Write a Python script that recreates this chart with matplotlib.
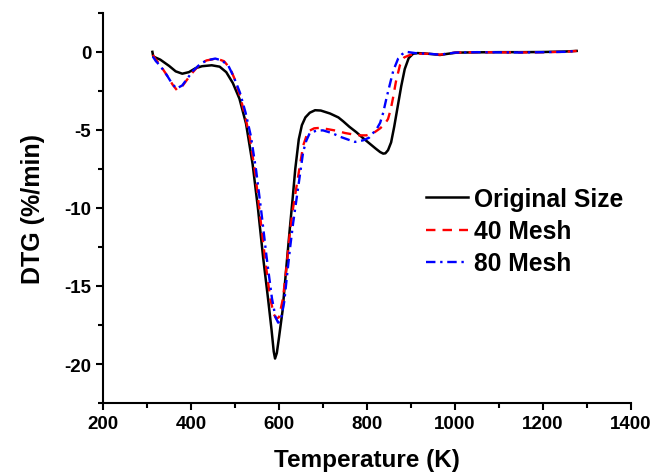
import matplotlib
matplotlib.use('Agg')
import matplotlib.pyplot as plt
from matplotlib.ticker import MultipleLocator

plt.rcParams['font.family'] = ['Liberation Sans', 'DejaVu Sans']
plt.rcParams['font.weight'] = 'bold'
plt.rcParams['axes.unicode_minus'] = False

# DTG curves, temperature in K, rate in %/min
temp_orig = [312, 314, 330, 350, 365, 380, 395, 410, 425, 447, 465, 480, 495, 510,
             525, 540, 552, 564, 575, 583, 588, 591, 595, 600, 608, 617, 625, 631,
             637, 645, 652, 660, 670, 682, 695, 716, 735, 746, 760, 776, 790, 805,
             820, 830, 837, 842, 848, 855, 862, 870, 878, 886, 895, 905, 915, 930,
             950, 966, 985, 1004, 1050, 1100, 1150, 1200, 1250, 1277]
dtg_orig = [0, -0.3, -0.5, -0.9, -1.25, -1.4, -1.3, -1.05, -0.92, -0.86, -0.95, -1.3,
            -2.0, -3.0, -4.6, -7.2, -10.0, -13.2, -15.8, -17.8, -19.2, -19.65, -19.3,
            -18.3, -16.6, -13.7, -11.2, -9.4, -7.5, -5.6, -4.7, -4.2, -3.9, -3.74,
            -3.76, -3.95, -4.2, -4.45, -4.8, -5.15, -5.5, -5.85, -6.2, -6.42, -6.52,
            -6.5, -6.3, -5.8, -4.8, -3.5, -2.2, -1.1, -0.4, -0.12, -0.08, -0.1, -0.15,
            -0.2, -0.12, -0.05, -0.03, -0.02, -0.02, -0.01, 0.02, 0.06]

temp_40 = [313, 320, 330, 345, 358, 368, 380, 393, 405, 420, 435, 458, 475, 489, 500,
           511, 522, 534, 546, 557, 568, 580, 588, 594, 600, 609, 617, 625, 632, 640,
           648, 655, 666, 680, 693, 710, 730, 750, 770, 784, 799, 815, 830, 840, 848,
           854, 859, 866, 875, 885, 898, 915, 940, 966, 1000, 1050, 1100, 1150, 1200,
           1250, 1277]
dtg_40 = [-0.2, -0.5, -0.86, -1.5, -2.1, -2.46, -2.2, -1.7, -1.27, -0.8, -0.55, -0.43,
          -0.6, -1.07, -1.8, -2.8, -4.0, -5.56, -7.8, -10.5, -13.2, -15.8, -16.8, -17.1,
          -17.0, -15.8, -13.8, -11.5, -10.0, -8.6, -7.2, -6.0, -5.1, -4.9, -4.87, -4.95,
          -5.05, -5.2, -5.3, -5.35, -5.35, -5.2, -4.9, -4.65, -4.3, -3.7, -3.0, -1.9,
          -0.86, -0.35, -0.2, -0.12, -0.12, -0.18, -0.05, -0.02, -0.03, -0.04, -0.02,
          0.0, 0.06]

temp_80 = [313, 320, 330, 345, 357, 367, 380, 393, 405, 420, 435, 455, 470, 485, 497,
           511, 524, 536, 548, 560, 572, 584, 592, 598, 604, 612, 618, 625, 632, 640,
           648, 655, 662, 670, 685, 700, 720, 740, 760, 773, 791, 805, 814, 822, 830,
           837, 845, 852, 860, 871, 880, 890, 910, 940, 966, 1000, 1050, 1100, 1150,
           1200, 1250, 1277]
dtg_80 = [-0.3, -0.6, -0.9, -1.5, -2.05, -2.35, -2.15, -1.65, -1.2, -0.8, -0.55, -0.43,
          -0.55, -0.9, -1.6, -2.6, -3.9, -5.4, -7.6, -10.3, -13.2, -15.8, -17.0, -17.35,
          -17.2, -16.0, -14.4, -12.6, -11.0, -9.4, -7.8, -6.4, -5.7, -5.2, -5.05, -5.03,
          -5.2, -5.45, -5.65, -5.77, -5.67, -5.5, -5.2, -4.95, -4.55, -3.9, -2.9, -2.1,
          -1.2, -0.43, -0.15, 0.0, -0.08, -0.12, -0.18, -0.05, -0.02, -0.03, -0.04,
          -0.02, 0.0, 0.06]

fig = plt.figure(figsize=(6.57, 4.77), dpi=100)
ax = fig.add_axes([0.157, 0.153, 0.803, 0.818])

ax.plot(temp_orig, dtg_orig, color='black', lw=1.8, label='Original Size')
ax.plot(temp_40, dtg_40, color='red', lw=1.7, ls=(0, (4, 3)), label='40 Mesh')
ax.plot(temp_80, dtg_80, color='blue', lw=1.7, ls=(0, (4, 2, 1, 2)), label='80 Mesh')

ax.set_xlim(200, 1400)
ax.set_ylim(-22.5, 2.5)
ax.xaxis.set_major_locator(MultipleLocator(200))
ax.xaxis.set_minor_locator(MultipleLocator(100))
ax.yaxis.set_major_locator(MultipleLocator(5))
ax.yaxis.set_minor_locator(MultipleLocator(2.5))

for s in ['top', 'right']:
    ax.spines[s].set_visible(False)
for s in ['left', 'bottom']:
    ax.spines[s].set_linewidth(1.5)
ax.tick_params(which='major', direction='out', length=5, width=1.5, labelsize=13.5)
ax.tick_params(which='minor', direction='out', length=3.5, width=1.5)

ax.set_xlabel('Temperature (K)', fontsize=17.5, fontweight='bold', labelpad=12)
ax.set_ylabel('DTG (%/min)', fontsize=18, fontweight='bold', labelpad=14)

ax.legend(loc='upper left', bbox_to_anchor=(426 / 657, 1 - 188 / 477),
          bbox_transform=fig.transFigure, frameon=False, fontsize=17.7,
          handlelength=1.7, handletextpad=0.25, labelspacing=0.33,
          borderpad=0, borderaxespad=0)

fig.savefig('out.png', dpi=100)
